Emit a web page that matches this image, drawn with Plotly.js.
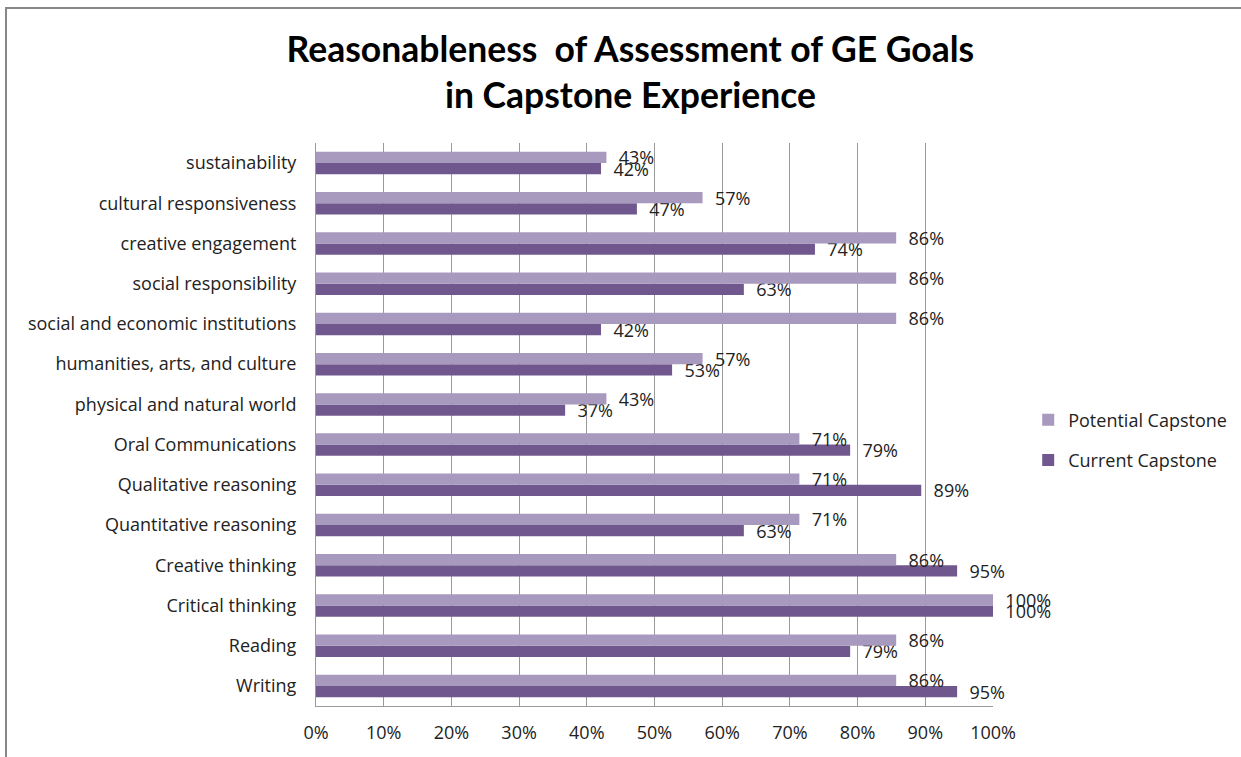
<!DOCTYPE html>
<html>
<head>
<meta charset="utf-8">
<script src="https://cdn.plot.ly/plotly-3.0.1.min.js"></script>
<style>
  html, body { margin: 0; padding: 0; overflow: hidden; background: #fff; }
  #chart { width: 1241px; height: 757px; }
  #frame { position: absolute; left: 5px; top: 7px; width: 1300px; height: 800px;
           border-left: 2px solid #888; border-top: 2px solid #888; pointer-events: none; z-index: 10; }
</style>
</head>
<body>
<div id="frame"></div>
<div id="chart"></div>
<script>
// Categories listed from bottom to top of the chart
const categories = [
  "Writing", "Reading", "Critical thinking", "Creative thinking",
  "Quantitative reasoning", "Qualitative reasoning", "Oral Communications",
  "physical and natural world", "humanities, arts, and culture",
  "social and economic institutions", "social responsibility",
  "creative engagement", "cultural responsiveness", "sustainability"
];
const potentialCapstone = [0.857, 0.857, 1.0, 0.857, 0.714, 0.714, 0.714, 0.429, 0.571, 0.857, 0.857, 0.857, 0.571, 0.429];
const currentCapstone   = [0.947, 0.789, 1.0, 0.947, 0.632, 0.894, 0.789, 0.368, 0.526, 0.421, 0.632, 0.737, 0.474, 0.421];
const xTickValues = [0, 0.1, 0.2, 0.3, 0.4, 0.5, 0.6, 0.7, 0.8, 0.9, 1.0];

const FONT = "Open Sans, DejaVu Sans, sans-serif";
const TEXT_COLOR = "#222";
const labelTemplate = "\u00a0\u00a0%{x:.0%}";

const traces = [
  {
    type: "bar", orientation: "h", name: "Current Capstone",
    y: categories, x: currentCapstone,
    marker: { color: "#70588f", line: { width: 0 } },
    texttemplate: labelTemplate, textposition: "outside",
    textfont: { family: FONT, size: 18, color: TEXT_COLOR },
    constraintext: "none", cliponaxis: false,
    legendgroup: "b", legendrank: 2, hoverinfo: "x+y+name"
  },
  {
    type: "bar", orientation: "h", name: "Potential Capstone",
    y: categories, x: potentialCapstone,
    marker: { color: "#a899be", line: { width: 0 } },
    texttemplate: labelTemplate, textposition: "outside",
    textfont: { family: FONT, size: 18, color: TEXT_COLOR },
    constraintext: "none", cliponaxis: false,
    legendgroup: "a", legendrank: 1, hoverinfo: "x+y+name"
  }
];

const layout = {
  width: 1241, height: 757,
  paper_bgcolor: "#ffffff", plot_bgcolor: "#ffffff",
  font: { family: FONT, size: 18, color: TEXT_COLOR },
  margin: { l: 316, r: 248, t: 143, b: 51, pad: 0, autoexpand: false },
  title: {
    text: "<b>Reasonableness  of Assessment of GE Goals<br>in Capstone Experience</b>",
    font: { family: "Lato, Open Sans, sans-serif", size: 35.5, color: "#000" },
    x: 0.508, xanchor: "center",
    y: 0.918, yanchor: "middle", yref: "container"
  },
  barmode: "group",
  bargap: 0.44, bargroupgap: 0,
  xaxis: {
    range: [0, 1], tickvals: xTickValues, tickformat: ".0%",
    showgrid: true, gridcolor: "#9a9a9a", gridwidth: 1,
    showline: true, linecolor: "#9a9a9a", linewidth: 1,
    zeroline: false, ticks: "", ticklabelstandoff: 10,
    tickfont: { family: FONT, size: 18, color: TEXT_COLOR },
    automargin: false, fixedrange: true
  },
  yaxis: {
    type: "category", categoryorder: "array", categoryarray: categories,
    showgrid: false, showline: true, linecolor: "#9a9a9a", linewidth: 1,
    zeroline: false, ticks: "", ticklabelstandoff: 15,
    tickfont: { family: FONT, size: 18, color: TEXT_COLOR },
    automargin: false, fixedrange: true
  },
  showlegend: true,
  legend: {
    x: 1.052, xanchor: "left", y: 0.4725, yanchor: "middle",
    traceorder: "grouped", tracegroupgap: 14,
    font: { family: FONT, size: 18, color: TEXT_COLOR },
    bgcolor: "rgba(0,0,0,0)"
  }
};

Plotly.newPlot("chart", traces, layout, { displayModeBar: false, staticPlot: true });
</script>
</body>
</html>
